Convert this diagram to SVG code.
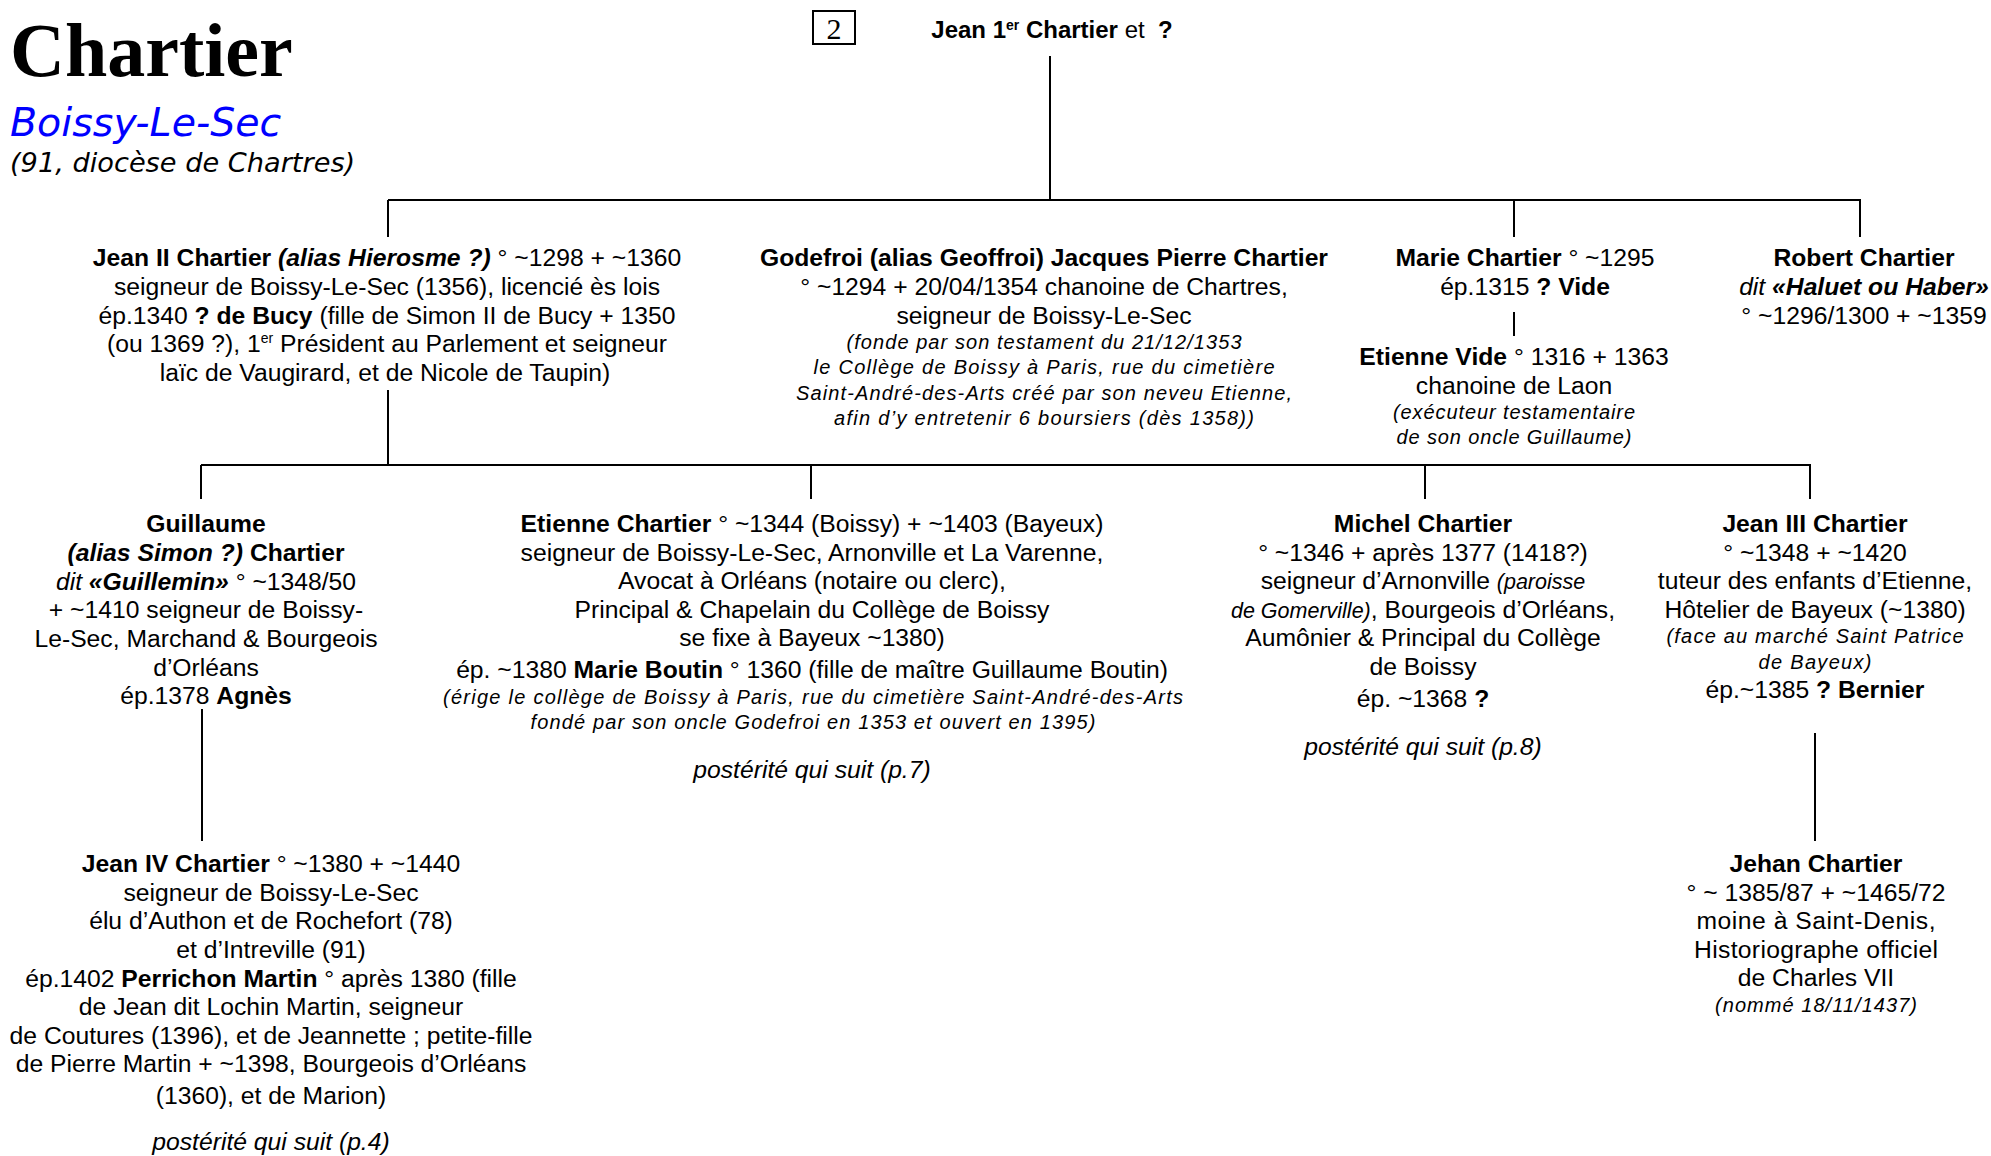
<svg xmlns="http://www.w3.org/2000/svg" width="1991" height="1156" viewBox="0 0 1991 1156">
<style>
.t{font-family:"Liberation Sans",Arial,sans-serif;font-size:24.7px;fill:#000;text-anchor:middle}
.b{font-weight:bold}
.i{font-style:italic}
.s{font-size:20px;font-style:italic}
.s2{font-size:21.5px;font-style:italic}
.sup{font-size:14px}
.ln{stroke:#000;stroke-width:2;fill:none}
</style>
<rect width="1991" height="1156" fill="#fff"/>
<g id="header">
<text x="10" y="76" style="font-family:'Liberation Serif','Times New Roman',serif;font-size:76px;font-weight:bold">Chartier</text>
<text x="10" y="136" style="font-family:'DejaVu Sans',Verdana,sans-serif;font-size:39.5px;font-style:italic;fill:#0000ff">Boissy-Le-Sec</text>
<text x="10" y="172" style="font-family:'DejaVu Sans',Verdana,sans-serif;font-size:27.2px;font-style:italic">(91, diocèse de Chartres)</text>
<rect x="813" y="11" width="42" height="33" fill="none" stroke="#000" stroke-width="2"/>
<text x="834" y="39" style="font-family:'Liberation Serif','Times New Roman',serif;font-size:30px;text-anchor:middle">2</text>
</g>
<g id="connectors">
<line class="ln" x1="1050" y1="56" x2="1050" y2="200"/>
<line class="ln" x1="388" y1="200" x2="1861" y2="200"/>
<line class="ln" x1="388" y1="200" x2="388" y2="237"/>
<line class="ln" x1="1514" y1="200" x2="1514" y2="237"/>
<line class="ln" x1="1860" y1="200" x2="1860" y2="237"/>
<line class="ln" x1="1514" y1="312" x2="1514" y2="336"/>
<line class="ln" x1="388" y1="390" x2="388" y2="465"/>
<line class="ln" x1="201" y1="465" x2="1811" y2="465"/>
<line class="ln" x1="201" y1="465" x2="201" y2="499"/>
<line class="ln" x1="811" y1="465" x2="811" y2="499"/>
<line class="ln" x1="1425" y1="465" x2="1425" y2="499"/>
<line class="ln" x1="1810" y1="465" x2="1810" y2="499"/>
<line class="ln" x1="202" y1="709" x2="202" y2="841"/>
<line class="ln" x1="1815" y1="733" x2="1815" y2="841"/>
</g>
<g id="jean1">
<text class="t" x="1052" y="38" style="font-size:24px"><tspan class="b">Jean 1<tspan class="sup" dy="-8">er</tspan><tspan dy="8"> Chartier</tspan></tspan> et&#160; <tspan class="b">?</tspan></text>
</g>
<g id="jean2">
<text class="t" x="387" y="265.5"><tspan class="b">Jean II Chartier</tspan> <tspan class="b i">(alias Hierosme ?)</tspan> ° ~1298 + ~1360</text>
<text class="t" x="387" y="294.5">seigneur de Boissy-Le-Sec (1356), licencié ès lois</text>
<text class="t" x="387" y="323.5">ép.1340 <tspan class="b">? de Bucy</tspan> (fille de Simon II de Bucy + 1350</text>
<text class="t" x="387" y="351.5">(ou 1369 ?), 1<tspan class="sup" dy="-9">er</tspan><tspan dy="9"> Président au Parlement et seigneur</tspan></text>
<text class="t" x="385" y="380.5">laïc de Vaugirard, et de Nicole de Taupin)</text>
</g>
<g id="godefroi">
<text class="t b" x="1044" y="265.5">Godefroi (alias Geoffroi) Jacques Pierre Chartier</text>
<text class="t" x="1044" y="294.5">° ~1294 + 20/04/1354 chanoine de Chartres,</text>
<text class="t" x="1044" y="323.5">seigneur de Boissy-Le-Sec</text>
<text class="t s" x="1044" y="348.5" textLength="395" lengthAdjust="spacing">(fonde par son testament du 21/12/1353</text>
<text class="t s" x="1044" y="373.5" textLength="461" lengthAdjust="spacing">le Collège de Boissy à Paris, rue du cimetière</text>
<text class="t s" x="1044" y="399.5" textLength="496" lengthAdjust="spacing">Saint-André-des-Arts créé par son neveu Etienne,</text>
<text class="t s" x="1044" y="424.5" textLength="420" lengthAdjust="spacing">afin d’y entretenir 6 boursiers (dès 1358))</text>
</g>
<g id="marie">
<text class="t" x="1525" y="265.5"><tspan class="b">Marie Chartier</tspan> ° ~1295</text>
<text class="t" x="1525" y="294.5">ép.1315 <tspan class="b">? Vide</tspan></text>
</g>
<g id="etienne-vide">
<text class="t" x="1514" y="364.5"><tspan class="b">Etienne Vide</tspan> ° 1316 + 1363</text>
<text class="t" x="1514" y="393.5">chanoine de Laon</text>
<text class="t s" x="1514" y="418.5" textLength="242" lengthAdjust="spacing">(exécuteur testamentaire</text>
<text class="t s" x="1514" y="443.5" textLength="235" lengthAdjust="spacing">de son oncle Guillaume)</text>
</g>
<g id="robert">
<text class="t b" x="1864" y="265.5">Robert Chartier</text>
<text class="t" x="1864" y="294.5"><tspan class="i">dit</tspan> <tspan class="b i">«Haluet ou Haber»</tspan></text>
<text class="t" x="1864" y="323.5">° ~1296/1300 + ~1359</text>
</g>
<g id="guillaume">
<text class="t b" x="206" y="531.5">Guillaume</text>
<text class="t" x="206" y="560.5"><tspan class="b i">(alias Simon ?)</tspan> <tspan class="b">Chartier</tspan></text>
<text class="t" x="206" y="589.5"><tspan class="i">dit</tspan> <tspan class="b i">«Guillemin»</tspan> ° ~1348/50</text>
<text class="t" x="206" y="617.5">+ ~1410 seigneur de Boissy-</text>
<text class="t" x="206" y="646.5">Le-Sec, Marchand &amp; Bourgeois</text>
<text class="t" x="206" y="675.5">d’Orléans</text>
<text class="t" x="206" y="703.5">ép.1378 <tspan class="b">Agnès</tspan></text>
</g>
<g id="etienne">
<text class="t" x="812" y="531.5"><tspan class="b">Etienne Chartier</tspan> ° ~1344 (Boissy) + ~1403 (Bayeux)</text>
<text class="t" x="812" y="560.5">seigneur de Boissy-Le-Sec, Arnonville et La Varenne,</text>
<text class="t" x="812" y="588.5">Avocat à Orléans (notaire ou clerc),</text>
<text class="t" x="812" y="617.5">Principal &amp; Chapelain du Collège de Boissy</text>
<text class="t" x="812" y="645.5">se fixe à Bayeux ~1380)</text>
<text class="t" x="812" y="677.5">ép. ~1380 <tspan class="b">Marie Boutin</tspan> ° 1360 (fille de maître Guillaume Boutin)</text>
<text class="t s" x="813" y="703.5" textLength="740" lengthAdjust="spacing">(érige le collège de Boissy à Paris, rue du cimetière Saint-André-des-Arts</text>
<text class="t s" x="813" y="728.5" textLength="565" lengthAdjust="spacing">fondé par son oncle Godefroi en 1353 et ouvert en 1395)</text>
<text class="t i" x="812" y="777.5">postérité qui suit (p.7)</text>
</g>
<g id="michel">
<text class="t b" x="1423" y="531.5">Michel Chartier</text>
<text class="t" x="1423" y="560.5">° ~1346 + après 1377 (1418?)</text>
<text class="t" x="1423" y="588.5">seigneur d’Arnonville <tspan class="s2">(paroisse</tspan></text>
<text class="t" x="1423" y="617.5"><tspan class="s2">de Gomerville)</tspan>, Bourgeois d’Orléans,</text>
<text class="t" x="1423" y="645.5">Aumônier &amp; Principal du Collège</text>
<text class="t" x="1423" y="674.5">de Boissy</text>
<text class="t" x="1423" y="706.5">ép. ~1368 <tspan class="b">?</tspan></text>
<text class="t i" x="1423" y="754.5">postérité qui suit (p.8)</text>
</g>
<g id="jean3">
<text class="t b" x="1815" y="531.5">Jean III Chartier</text>
<text class="t" x="1815" y="560.5">° ~1348 + ~1420</text>
<text class="t" x="1815" y="588.5">tuteur des enfants d’Etienne,</text>
<text class="t" x="1815" y="617.5">Hôtelier de Bayeux (~1380)</text>
<text class="t s" x="1815" y="642.5" textLength="297" lengthAdjust="spacing">(face au marché Saint Patrice</text>
<text class="t s" x="1815" y="668.5" textLength="113" lengthAdjust="spacing">de Bayeux)</text>
<text class="t" x="1815" y="697.5">ép.~1385 <tspan class="b">? Bernier</tspan></text>
</g>
<g id="jean4">
<text class="t" x="271" y="871.5"><tspan class="b">Jean IV Chartier</tspan> ° ~1380 + ~1440</text>
<text class="t" x="271" y="900.5">seigneur de Boissy-Le-Sec</text>
<text class="t" x="271" y="928.5">élu d’Authon et de Rochefort (78)</text>
<text class="t" x="271" y="957.5">et d’Intreville (91)</text>
<text class="t" x="271" y="986.5">ép.1402 <tspan class="b">Perrichon Martin</tspan> ° après 1380 (fille</text>
<text class="t" x="271" y="1014.5">de Jean dit Lochin Martin, seigneur</text>
<text class="t" x="271" y="1043.5">de Coutures (1396), et de Jeannette ; petite-fille</text>
<text class="t" x="271" y="1071.5">de Pierre Martin + ~1398, Bourgeois d’Orléans</text>
<text class="t" x="271" y="1103.5">(1360), et de Marion)</text>
<text class="t i" x="271" y="1150">postérité qui suit (p.4)</text>
</g>
<g id="jehan">
<text class="t b" x="1816" y="871.5">Jehan Chartier</text>
<text class="t" x="1816" y="900.5">° ~ 1385/87 + ~1465/72</text>
<text class="t" x="1816" y="928.5" textLength="239" lengthAdjust="spacing">moine à Saint-Denis,</text>
<text class="t" x="1816" y="957.5" textLength="244" lengthAdjust="spacing">Historiographe officiel</text>
<text class="t" x="1816" y="985.5">de Charles VII</text>
<text class="t s" x="1816" y="1011.5" textLength="202" lengthAdjust="spacing">(nommé 18/11/1437)</text>
</g>
</svg>
